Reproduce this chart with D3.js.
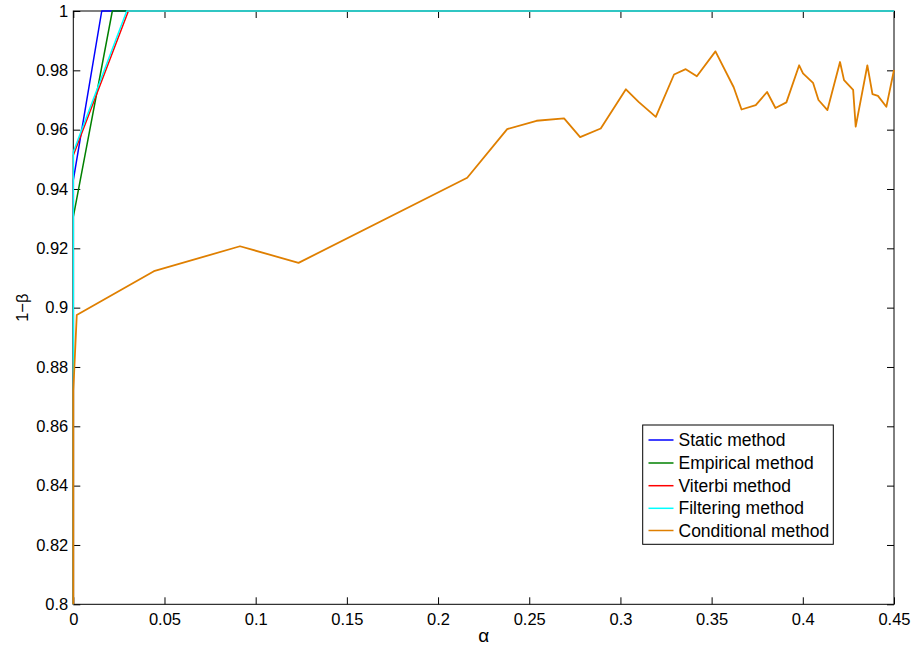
<!DOCTYPE html>
<html>
<head>
<meta charset="utf-8">
<script src="https://cdn.jsdelivr.net/npm/d3@7"></script>
<style>
  html, body { margin: 0; padding: 0; background: #fff; }
  svg { display: block; font-family: "Liberation Sans", Arial, Helvetica, sans-serif; }
</style>
</head>
<body>
<svg id="chart" width="915" height="651"></svg>
<script>
// ---- data ----
const xTicks = [0, 0.05, 0.1, 0.15, 0.2, 0.25, 0.3, 0.35, 0.4, 0.45];
const xTickLabels = ["0", "0.05", "0.1", "0.15", "0.2", "0.25", "0.3", "0.35", "0.4", "0.45"];
const yTicks = [0.8, 0.82, 0.84, 0.86, 0.88, 0.9, 0.92, 0.94, 0.96, 0.98, 1];
const yTickLabels = ["0.8", "0.82", "0.84", "0.86", "0.88", "0.9", "0.92", "0.94", "0.96", "0.98", "1"];

const seriesNames = ["Static method", "Empirical method", "Viterbi method", "Filtering method", "Conditional method"];
const seriesColors = ["#0000ff", "#008000", "#ff0000", "#00ffff", "#df7f00"];

const staticAlpha = [0, 0, 0.0156, 0.45];
const staticPower = [0.8, 0.943, 1, 1];
const empiricalAlpha = [0, 0, 0.0214, 0.45];
const empiricalPower = [0.8, 0.9306, 1, 1];
const viterbiAlpha = [0, 0, 0.0302, 0.45];
const viterbiPower = [0.8, 0.9514, 1, 1];
const filteringAlpha = [0, 0, 0.0293, 0.45];
const filteringPower = [0.8, 0.9525, 1, 1];
const conditionalAlpha = [0, 0, 0.0019, 0.0442, 0.0914, 0.1235, 0.216, 0.2379, 0.254, 0.2691, 0.2779,
  0.2892, 0.303, 0.3101, 0.3194, 0.3294, 0.3358, 0.3419, 0.3521, 0.3621, 0.3664, 0.3742, 0.3804,
  0.385, 0.391, 0.398, 0.4001, 0.4056, 0.4086, 0.4135, 0.4204, 0.4226, 0.4276, 0.429, 0.4354,
  0.4382, 0.4412, 0.4458, 0.45];
const conditionalPower = [0.8, 0.872, 0.8975, 0.9123, 0.9207, 0.9151, 0.9438, 0.9602, 0.963, 0.9638, 0.9575,
  0.9604, 0.9736, 0.9693, 0.9643, 0.9786, 0.9804, 0.978, 0.9864, 0.9743, 0.9668, 0.9683, 0.9727,
  0.9673, 0.9692, 0.9817, 0.979, 0.9758, 0.97, 0.9666, 0.9828, 0.9767, 0.9734, 0.961, 0.9817,
  0.972, 0.9714, 0.9677, 0.9801];

const seriesAlpha = [staticAlpha, empiricalAlpha, viterbiAlpha, filteringAlpha, conditionalAlpha];
const seriesPower = [staticPower, empiricalPower, viterbiPower, filteringPower, conditionalPower];

// ---- layout ----
const L = 73.3, R = 894, T = 11, B = 604.3;
const svg = d3.select("#chart");
const x = d3.scaleLinear().domain([0, 0.45]).range([L, R]);
const y = d3.scaleLinear().domain([0.8, 1]).range([B, T]);
const tickLen = 7;
const fontTick = 16.5;

// box
svg.append("rect").attr("x", L).attr("y", T).attr("width", R - L).attr("height", B - T)
  .attr("fill", "none").attr("stroke", "#000").attr("stroke-width", 1);

// axes with inward ticks on all four sides
const xAxisB = d3.axisBottom(x).tickValues(xTicks).tickSizeInner(-tickLen).tickSizeOuter(0)
  .tickPadding(8.5).tickFormat((d, i) => xTickLabels[i]);
const gxb = svg.append("g").attr("transform", `translate(0,${B})`).call(xAxisB);
const xAxisT = d3.axisTop(x).tickValues(xTicks).tickSizeInner(-tickLen).tickSizeOuter(0).tickFormat("");
const gxt = svg.append("g").attr("transform", `translate(0,${T})`).call(xAxisT);

const yAxisL = d3.axisLeft(y).tickValues(yTicks).tickSizeInner(-tickLen).tickSizeOuter(0)
  .tickPadding(5).tickFormat((d, i) => yTickLabels[i]);
const gyl = svg.append("g").attr("transform", `translate(${L},0)`).call(yAxisL);
const yAxisR = d3.axisRight(y).tickValues(yTicks).tickSizeInner(-tickLen).tickSizeOuter(0).tickFormat("");
const gyr = svg.append("g").attr("transform", `translate(${R},0)`).call(yAxisR);

[gxb, gxt, gyl, gyr].forEach(g => {
  g.select(".domain").remove();
  g.selectAll("line").attr("stroke", "#000");
  g.selectAll("text").attr("font-size", fontTick).attr("fill", "#000")
    .attr("font-family", "'Liberation Sans', Arial, sans-serif");
});

// axis labels
svg.append("text").attr("x", (L + R) / 2).attr("y", 642).attr("text-anchor", "middle")
  .attr("font-size", 19).text("α");
svg.append("text").attr("transform", `translate(28,${(T + B) / 2}) rotate(-90)`)
  .attr("text-anchor", "middle").attr("font-size", 16.5).text("1−β");

// lines
const line = d3.line().x(d => x(d[0])).y(d => y(d[1]));
seriesNames.forEach((name, i) => {
  const pts = seriesAlpha[i].map((a, j) => [a, seriesPower[i][j]]);
  svg.append("path").datum(pts).attr("d", line).attr("fill", "none")
    .attr("stroke", seriesColors[i]).attr("stroke-width", i === 4 ? 1.8 : 1.5)
    .attr("stroke-linejoin", "round");
});

// legend
const lg = svg.append("g");
lg.append("rect").attr("x", 642.7).attr("y", 425).attr("width", 190.6).attr("height", 119.3)
  .attr("fill", "#fff").attr("stroke", "#000").attr("stroke-width", 1);
const rowY = [440, 463, 485.7, 508.3, 530.5];
seriesNames.forEach((name, i) => {
  lg.append("line").attr("x1", 648.5).attr("x2", 673.5).attr("y1", rowY[i]).attr("y2", rowY[i])
    .attr("stroke", seriesColors[i]).attr("stroke-width", 1.5);
  lg.append("text").attr("x", 678.5).attr("y", rowY[i]).attr("dy", "0.35em")
    .attr("font-size", 17.5).attr("fill", "#000").text(name);
});
</script>
</body>
</html>
